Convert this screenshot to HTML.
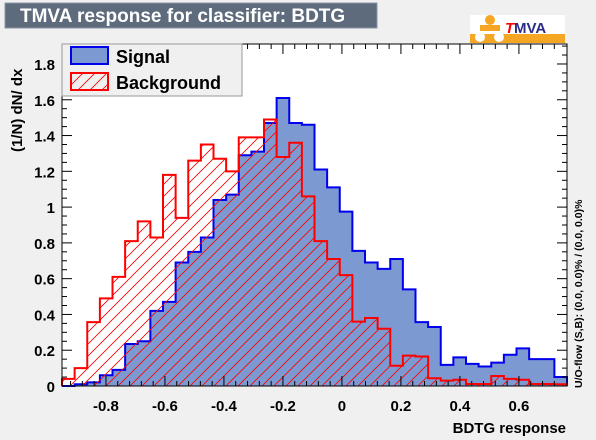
<!DOCTYPE html>
<html><head><meta charset="utf-8"><style>
body{margin:0;background:#f0f0f0;}
svg{display:block;font-family:"Liberation Sans",Arial,sans-serif;}
</style></head><body>
<svg id="c" width="596" height="440" viewBox="0 0 596 440">
<defs>
<pattern id="hatch" patternUnits="userSpaceOnUse" width="12" height="12">
<path d="M-3,3 L3,-3 M0,12 L12,0 M9,15 L15,9" stroke="#ff0000" stroke-width="0.8"/>
</pattern>
</defs>
<rect x="0" y="0" width="596" height="440" fill="#f0f0f0"/>
<g>
<rect x="5" y="3" width="372" height="25" fill="#5d6b7d" stroke="#8a96a6" stroke-width="1"/>
<text x="20" y="22" fill="#fff" font-size="19" font-weight="bold">TMVA response for classifier: BDTG</text>
</g>
<g>
<rect x="470" y="15" width="95" height="28" fill="#fff"/>
<rect x="470" y="34" width="95" height="9" fill="#f5a623"/>
<circle cx="490" cy="20" r="5" fill="#f5a623"/>
<rect x="480" y="25" width="20" height="6" fill="#f5a623"/>
<circle cx="480" cy="37" r="5" fill="#fff"/>
<circle cx="499" cy="37" r="5" fill="#fff"/>
<text x="505" y="33" font-size="15" font-weight="bold" font-style="italic" fill="#ff0000">T</text>
<text x="514" y="33" font-size="15" font-weight="bold" fill="#2b2b8a">MVA</text>
</g>
<rect x="62" y="44" width="505" height="342" fill="#fff"/>
<g id="hist"></g>
<g id="axes"></g>
<g>
<rect x="62" y="44" width="180" height="52" fill="#f0f0f0" stroke="#999" stroke-width="1"/>
<rect x="71" y="47" width="37" height="17" fill="#7d99d1" stroke="#0000ee" stroke-width="2"/>
<text x="116" y="63" font-size="18" font-weight="bold">Signal</text>
<rect x="71" y="73" width="37" height="17" fill="url(#hatch)" stroke="#ff0000" stroke-width="2"/>
<text x="116" y="89" font-size="18" font-weight="bold">Background</text>
</g>
<text transform="translate(22,152) rotate(-90)" font-size="15" font-weight="bold">(1/N) dN/ dx</text>
<text x="566" y="433" text-anchor="end" font-size="15" font-weight="bold">BDTG response</text>
<text transform="translate(582,388) rotate(-90)" font-size="10.5" font-weight="bold">U/O-flow (S,B): (0.0, 0.0)% / (0.0, 0.0)%</text>
</svg>
<script>
const xMin=-0.949, xMax=0.763;
const signalValues=[0.0,0.01,0.02,0.06,0.09,0.235,0.25,0.42,0.47,0.69,0.75,0.83,1.04,1.07,1.29,1.31,1.47,1.61,1.47,1.46,1.21,1.11,0.975,0.755,0.69,0.655,0.71,0.54,0.357,0.33,0.118,0.16,0.124,0.109,0.131,0.175,0.21,0.15,0.15,0.05];
const backgroundValues=[0.04,0.10,0.357,0.49,0.61,0.81,0.92,0.83,1.18,0.94,1.26,1.35,1.27,1.20,1.39,1.39,1.49,1.28,1.36,1.06,0.81,0.71,0.62,0.36,0.38,0.32,0.113,0.17,0.165,0.043,0.03,0.035,0.011,0.011,0.056,0.04,0.035,0.011,0.011,0.01];
const xTicks=[-0.8,-0.6,-0.4,-0.2,0,0.2,0.4,0.6];
const xTickLabels=["-0.8","-0.6","-0.4","-0.2","0","0.2","0.4","0.6"];
const yTicks=[0,0.2,0.4,0.6,0.8,1,1.2,1.4,1.6,1.8];
const yTickLabels=["0","0.2","0.4","0.6","0.8","1","1.2","1.4","1.6","1.8"];
const L=62,R=567,T=44,B=386,yMax=(B-T)/178.9;
const sx=v=>L+(v-xMin)/(xMax-xMin)*(R-L);
const sy=v=>B-v/yMax*(B-T);
const NS="http://www.w3.org/2000/svg";
function mk(tag,attrs,parent){const e=document.createElementNS(NS,tag);for(const k in attrs)e.setAttribute(k,attrs[k]);parent.appendChild(e);return e;}
function stepPath(vals){
  const n=vals.length,w=(xMax-xMin)/n;let d="M"+sx(xMin)+","+sy(0);
  vals.forEach((v,i)=>{d+=" L"+sx(xMin+i*w)+","+sy(v)+" L"+sx(xMin+(i+1)*w)+","+sy(v);});
  d+=" L"+sx(xMax)+","+sy(0);return d;
}
const h=document.getElementById('hist');
const sp=mk('path',{d:stepPath(signalValues),fill:'#7d99d1',stroke:'#0000ee','stroke-width':2},h);


const bp=mk('path',{d:stepPath(backgroundValues),fill:'url(#hatch)',stroke:'#ff0000','stroke-width':2},h);


const a=document.getElementById('axes');
mk('rect',{x:L,y:T,width:R-L,height:B-T,fill:'none',stroke:'#000','stroke-width':1},a);
for(let v=-0.92;v<=0.76;v+=0.04){const x=sx(v);const major=Math.abs(Math.round(v/0.2)*0.2-v)<1e-6;const len=major?10:5;
  mk('line',{x1:x,x2:x,y1:B,y2:B-len,stroke:'#000'},a);mk('line',{x1:x,x2:x,y1:T,y2:T+len,stroke:'#000'},a);}
for(let v=0;v<=yMax;v+=0.05){const y=sy(v);const major=Math.abs(Math.round(v/0.2)*0.2-v)<1e-6;const len=major?10:5;
  mk('line',{x1:L,x2:L+len,y1:y,y2:y,stroke:'#000'},a);mk('line',{x1:R,x2:R-len,y1:y,y2:y,stroke:'#000'},a);}
xTicks.forEach((v,i)=>{const t=mk('text',{x:sx(v),y:411,'text-anchor':'middle','font-size':15,'font-weight':'bold'},a);t.textContent=xTickLabels[i];
  
  });
yTicks.forEach((v,i)=>{const t=mk('text',{x:55,y:sy(v)+6,'text-anchor':'end','font-size':15,'font-weight':'bold'},a);t.textContent=yTickLabels[i];
  
  });
</script>
</body></html>
